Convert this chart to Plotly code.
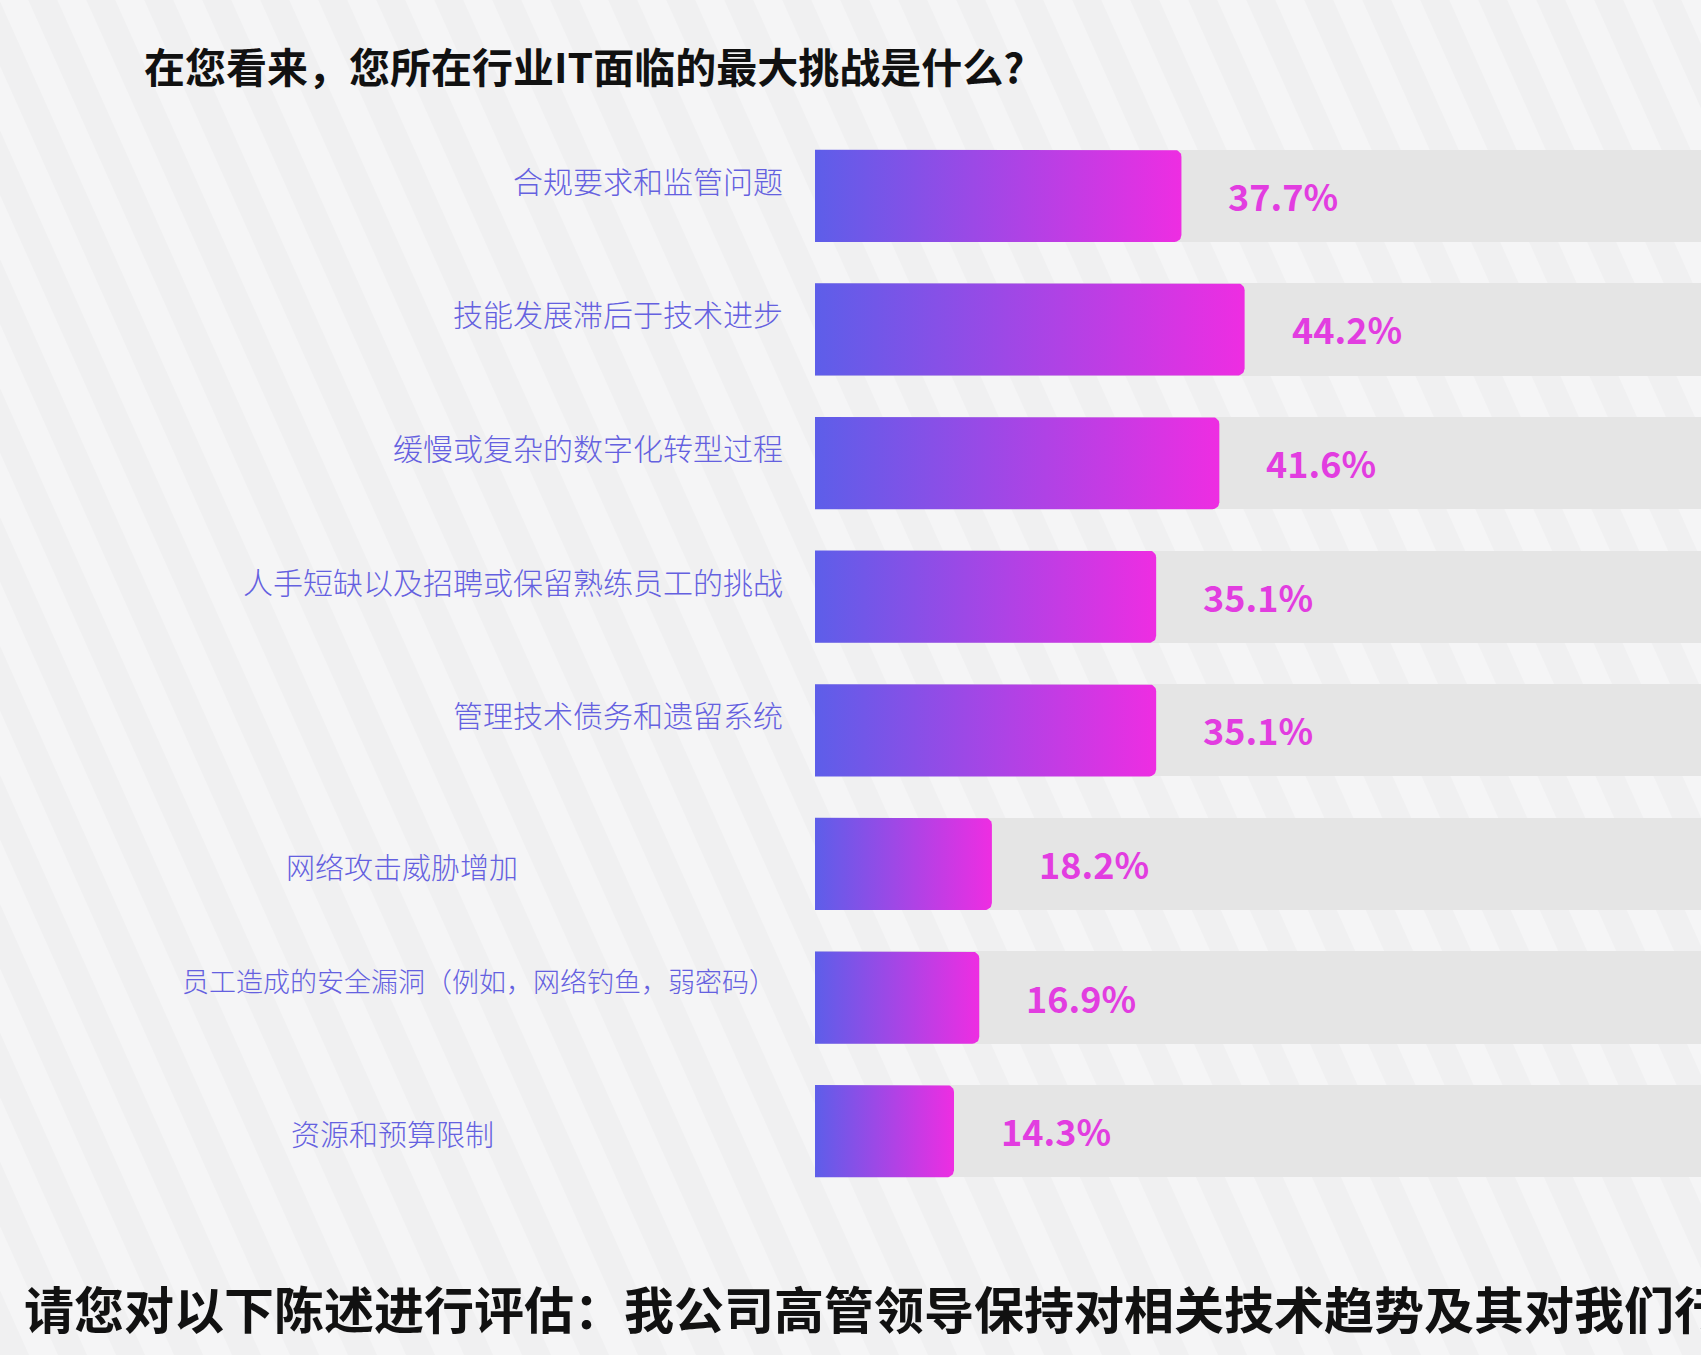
import numpy as np
import plotly.graph_objects as go

# ---------------- data ----------------
categories = [
    "合规要求和监管问题",
    "技能发展滞后于技术进步",
    "缓慢或复杂的数字化转型过程",
    "人手短缺以及招聘或保留熟练员工的挑战",
    "管理技术债务和遗留系统",
    "网络攻击威胁增加",
    "员工造成的安全漏洞（例如，网络钓鱼，弱密码）",
    "资源和预算限制",
]
values = [37.7, 44.2, 41.6, 35.1, 35.1, 18.2, 16.9, 14.3]
value_labels = ["37.7%", "44.2%", "41.6%", "35.1%", "35.1%", "18.2%", "16.9%", "14.3%"]
track_max = [100] * len(values)

title_text = "在您看来，您所在行业IT面临的最大挑战是什么?"
next_question = "请您对以下陈述进行评估：我公司高管领导保持对相关技术趋势及其对我们行业影响的了解。"

# ---------------- layout constants ----------------
W, H = 1701, 1355
ML, MR, MT, MB = 815, 0, 129, 157
PLOT_W, PLOT_H = W - ML - MR, H - MT - MB
PX_PER_PCT = 9.72
X_MAX = PLOT_W / PX_PER_PCT
N = len(values)
PX_PER_ROW = PLOT_H / N
BAR_H = 0.69
RADIUS_PX = 7

BG = "#f5f5f6"
STRIPE = "#f0f0f1"
TRACK = "#e5e5e5"
GRAD = [[0, "#5d5ee9"], [1, "#ee2de2"]]
LABEL_COLOR = "#6460e0"
VALUE_COLOR = "#e23de0"
FONT = "Noto Sans CJK SC"

# label placement: (xanchor, x pixel, yshift, font size)
label_place = [
    ("right", 785, 16, 30),
    ("right", 785, 16, 30),
    ("right", 785, 16, 30),
    ("right", 785, 16, 30),
    ("right", 785, 16, 30),
    ("center", 402, -2, 29),
    ("center", 479, 17, 27),
    ("center", 392, -2, 29),
]


def px(x):
    return (x - ML) / PLOT_W


def py(y):
    return 1 - (y - MT) / PLOT_H


fig = go.Figure()

# grey tracks
fig.add_trace(go.Bar(
    x=track_max, y=list(range(N)), orientation="h", width=BAR_H,
    marker=dict(color=TRACK, line=dict(width=0)), hoverinfo="skip", showlegend=False,
))

# gradient bars with rounded right corners
rx = RADIUS_PX / PX_PER_PCT
ry = RADIUS_PX / PX_PER_ROW
theta = np.linspace(0, np.pi / 2, 10)
for i, v in enumerate(values):
    top, bot = i - BAR_H / 2, i + BAR_H / 2
    xs = [0, v - rx]
    ys = [top, top]
    xs += list(v - rx + rx * np.sin(theta))
    ys += list(top + ry - ry * np.cos(theta))
    xs += list(v - rx + rx * np.cos(theta))
    ys += list(bot - ry + ry * np.sin(theta))
    xs += [v - rx, 0, 0]
    ys += [bot, bot, top]
    fig.add_trace(go.Scatter(
        x=xs, y=ys, mode="lines", fill="toself",
        line=dict(width=0, color="rgba(0,0,0,0)"),
        fillgradient=dict(type="horizontal", colorscale=GRAD),
        hoverinfo="skip", showlegend=False,
    ))

annotations = []
for i, (cat, (anc, xp, ys, fs)) in enumerate(zip(categories, label_place)):
    annotations.append(dict(
        x=px(xp), xref="paper", y=i, yref="y", text=cat, showarrow=False,
        xanchor=anc, yanchor="middle", yshift=ys,
        font=dict(family=FONT, size=fs, color=LABEL_COLOR, weight=300),
    ))
for i, (v, t) in enumerate(zip(values, value_labels)):
    annotations.append(dict(
        x=v, xref="x", y=i, yref="y", text=t, showarrow=False,
        xanchor="left", yanchor="middle", xshift=45, yshift=1,
        font=dict(family=FONT, size=36, color=VALUE_COLOR, weight="bold"),
    ))
annotations.append(dict(
    x=px(142), xref="paper", y=py(65), yref="paper", text=title_text, showarrow=False,
    xanchor="left", yanchor="middle",
    font=dict(family=FONT, size=41, color="#111111", weight="bold"),
))
annotations.append(dict(
    x=px(22), xref="paper", y=py(1307), yref="paper", text=next_question, showarrow=False,
    xanchor="left", yanchor="middle",
    font=dict(family=FONT, size=50, color="#111111", weight="bold"),
))

# decorative background: slanted stripes
shapes = []
SLANT = 0.45
PERIOD = 58
for x0 in np.arange(-H * SLANT, W + PERIOD, PERIOD):
    path = "M {:.4f},{:.4f} L {:.4f},{:.4f} L {:.4f},{:.4f} L {:.4f},{:.4f} Z".format(
        px(x0), py(0), px(x0 + PERIOD / 2), py(0),
        px(x0 + PERIOD / 2 + H * SLANT), py(H), px(x0 + H * SLANT), py(H))
    shapes.append(dict(type="path", path=path, xref="paper", yref="paper",
                       fillcolor=STRIPE, line=dict(width=0), layer="below"))

fig.update_layout(
    width=W, height=H,
    margin=dict(l=ML, r=MR, t=MT, b=MB, pad=0),
    paper_bgcolor=BG, plot_bgcolor="rgba(0,0,0,0)",
    xaxis=dict(range=[0, X_MAX], visible=False, fixedrange=True),
    yaxis=dict(range=[N - 0.5, -0.5], visible=False, fixedrange=True),
    showlegend=False,
    annotations=annotations,
    shapes=shapes,
    bargap=0,
)

fig.write_html("out.html", config={"displayModeBar": False})
